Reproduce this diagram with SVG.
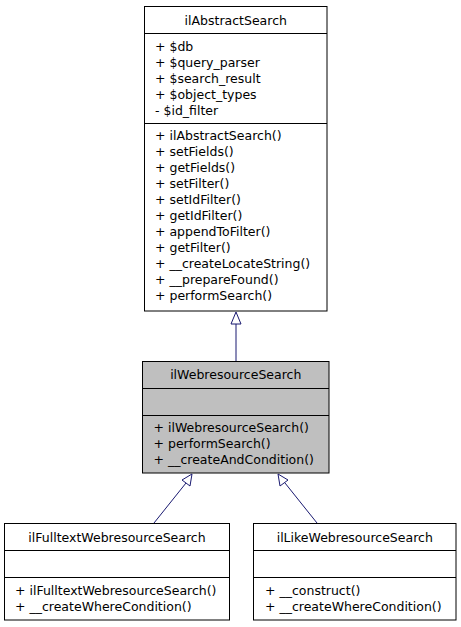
<svg xmlns="http://www.w3.org/2000/svg" width="461" height="627" viewBox="0 0 461 627">
<style>
text{font-family:"DejaVu Sans",sans-serif;font-size:12.5px;fill:#000}
.c{text-anchor:middle}
.box{fill:#fff;stroke:#000;stroke-width:1}
.gray{fill:#bfbfbf}
.div{stroke:#000;stroke-width:1}
.edge{stroke:#191970;stroke-width:1;fill:none}
.head{fill:#fff;stroke:#191970;stroke-width:1}
</style>
<rect width="461" height="627" fill="#fff"/>
<g id="connectors">
<path class="edge" d="M236,361 L236,324"/>
<polygon class="head" points="236,312 231,324 241,324"/>
<path class="edge" d="M154,523 L186,483"/>
<polygon class="head" points="192,474 182,480 190,486"/>
<path class="edge" d="M317,523 L285,483"/>
<polygon class="head" points="278,474 280,486 288,480"/>
</g>
<g id="ilAbstractSearch">
<rect class="box" x="144.5" y="6.5" width="182.5" height="304.5"/>
<line class="div" x1="144.5" y1="33.5" x2="327" y2="33.5"/>
<line class="div" x1="144.5" y1="123.5" x2="327" y2="123.5"/>
<text class="c" x="235.75" y="25">ilAbstractSearch</text>
<text x="155" y="51">+ $db</text>
<text x="155" y="67">+ $query_parser</text>
<text x="155" y="83">+ $search_result</text>
<text x="155" y="99">+ $object_types</text>
<text x="155" y="115">- $id_filter</text>
<text x="155" y="140">+ ilAbstractSearch()</text>
<text x="155" y="156">+ setFields()</text>
<text x="155" y="172">+ getFields()</text>
<text x="155" y="188">+ setFilter()</text>
<text x="155" y="204">+ setIdFilter()</text>
<text x="155" y="220">+ getIdFilter()</text>
<text x="155" y="236">+ appendToFilter()</text>
<text x="155" y="252">+ getFilter()</text>
<text x="155" y="268">+ __createLocateString()</text>
<text x="155" y="284">+ __prepareFound()</text>
<text x="155" y="300">+ performSearch()</text>
</g>
<g id="ilWebresourceSearch">
<rect class="box gray" x="142.5" y="361.5" width="186.5" height="111.5"/>
<line class="div" x1="142.5" y1="388.5" x2="329" y2="388.5"/>
<line class="div" x1="142.5" y1="415.5" x2="329" y2="415.5"/>
<text class="c" x="235.75" y="379">ilWebresourceSearch</text>
<text x="153.5" y="432">+ ilWebresourceSearch()</text>
<text x="153.5" y="448">+ performSearch()</text>
<text x="153.5" y="464">+ __createAndCondition()</text>
</g>
<g id="ilFulltextWebresourceSearch">
<rect class="box" x="4.5" y="523.5" width="225" height="96.5"/>
<line class="div" x1="4.5" y1="550.5" x2="229.5" y2="550.5"/>
<line class="div" x1="4.5" y1="577.5" x2="229.5" y2="577.5"/>
<text class="c" x="117" y="541.5">ilFulltextWebresourceSearch</text>
<text x="15" y="595">+ ilFulltextWebresourceSearch()</text>
<text x="15" y="611">+ __createWhereCondition()</text>
</g>
<g id="ilLikeWebresourceSearch">
<rect class="box" x="253.5" y="523.5" width="202.5" height="96.5"/>
<line class="div" x1="253.5" y1="550.5" x2="456" y2="550.5"/>
<line class="div" x1="253.5" y1="577.5" x2="456" y2="577.5"/>
<text class="c" x="354.75" y="541.5">ilLikeWebresourceSearch</text>
<text x="265" y="595">+ __construct()</text>
<text x="265" y="611">+ __createWhereCondition()</text>
</g>
</svg>
